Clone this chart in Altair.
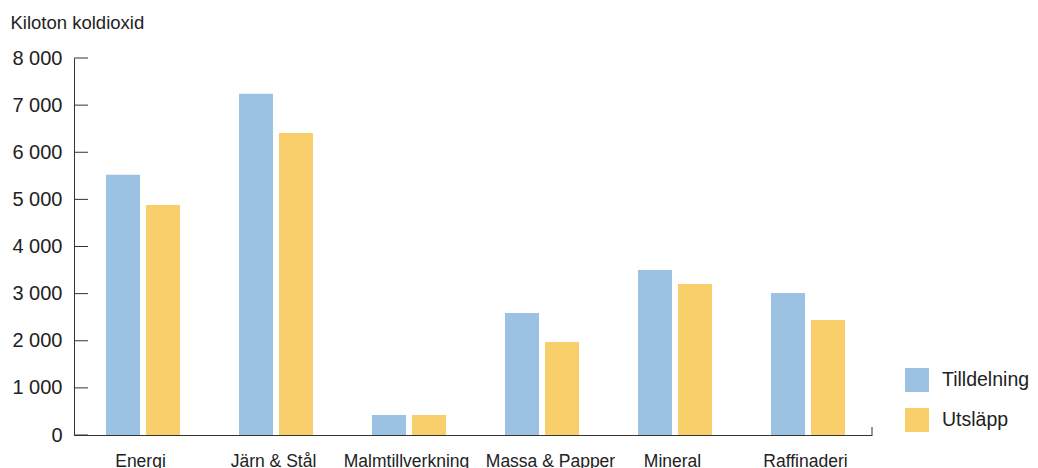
import altair as alt
import pandas as pd

categories = ["Energi", "Järn & Stål", "Malmtillverkning", "Massa & Papper", "Mineral", "Raffinaderi"]
tilldelning = [5520, 7240, 425, 2590, 3500, 3015]
utslapp = [4880, 6410, 425, 1975, 3205, 2440]
series = ["Tilldelning", "Utsläpp"]
colors = ["#9BC1E3", "#F8CF6A"]
y_ticks = [0, 1000, 2000, 3000, 4000, 5000, 6000, 7000, 8000]

rows = []
for c, t, u in zip(categories, tilldelning, utslapp):
    rows.append({"kategori": c, "serie": series[0], "value": t})
    rows.append({"kategori": c, "serie": series[1], "value": u})
df = pd.DataFrame(rows)
ticks_df = pd.DataFrame({"value": y_ticks})

FONT = "Liberation Sans"
TXT = "#222222"
AX = "#333333"
W, H = 798, 377

yscale = alt.Scale(domain=[0, 8000], nice=False, zero=True)
yaxis = alt.Axis(
    values=y_ticks, ticks=False, grid=False, domainColor=AX, domainWidth=1,
    labelExpr="replace(format(datum.value, ','), ',', ' ')",
    labelFontSize=20, labelColor=TXT, labelFont=FONT, labelPadding=12,
    title="Kiloton koldioxid", titleAngle=0, titleAlign="left",
    titleBaseline="alphabetic", titleX=-64, titleY=-30,
    titleFontSize=18.5, titleFontWeight="normal", titleColor=TXT, titleFont=FONT,
)

bars = alt.Chart(df).mark_bar().encode(
    x=alt.X(
        "kategori:N",
        sort=categories,
        scale=alt.Scale(paddingInner=0, paddingOuter=0),
        axis=alt.Axis(
            title=None, labelAngle=0, ticks=False, domainColor=AX, domainWidth=1,
            labelPadding=17, labelFontSize=17.5, labelColor=TXT, labelFont=FONT,
            labelBaseline="top",
            labelOffset={"condition": {"test": "datum.value === 'Massa & Papper'", "value": 11}, "value": 0},
        ),
    ),
    xOffset=alt.XOffset(
        "serie:N", sort=series,
        scale=alt.Scale(paddingInner=0.15, paddingOuter=0.7375, align=0.5424),
    ),
    y=alt.Y("value:Q", scale=yscale, axis=yaxis),
    color=alt.Color(
        "serie:N", sort=series,
        scale=alt.Scale(domain=series, range=colors),
        legend=alt.Legend(
            title=None, orient="none", legendX=831, legendY=310,
            symbolType="square", symbolSize=576, symbolStrokeWidth=0,
            symbolOpacity=1,
            labelFontSize=19.5, labelFont=FONT, labelColor=TXT, labelOffset=13,
            rowPadding=16, padding=0,
        ),
    ),
)

tick_marks = alt.Chart(ticks_df).mark_rule(color=AX, strokeWidth=1).encode(
    y=alt.Y("value:Q", scale=yscale, axis=yaxis),
    x=alt.value(0),
    x2=alt.value(14),
)

end_tick = alt.Chart(pd.DataFrame({"value": [0]})).mark_rule(color=AX, strokeWidth=1).encode(
    x=alt.value(W),
    y=alt.value(H - 8),
    y2=alt.value(H),
)

chart = alt.layer(bars, tick_marks, end_tick).properties(
    width=W, height=H,
    autosize=alt.AutoSizeParams(type="none"),
    padding={"left": 66, "top": 50, "right": 158, "bottom": 33},
).configure_view(stroke=None).configure_axis(labelFont=FONT)

chart.save("out.html", embed_options={"renderer": "svg", "actions": False})
